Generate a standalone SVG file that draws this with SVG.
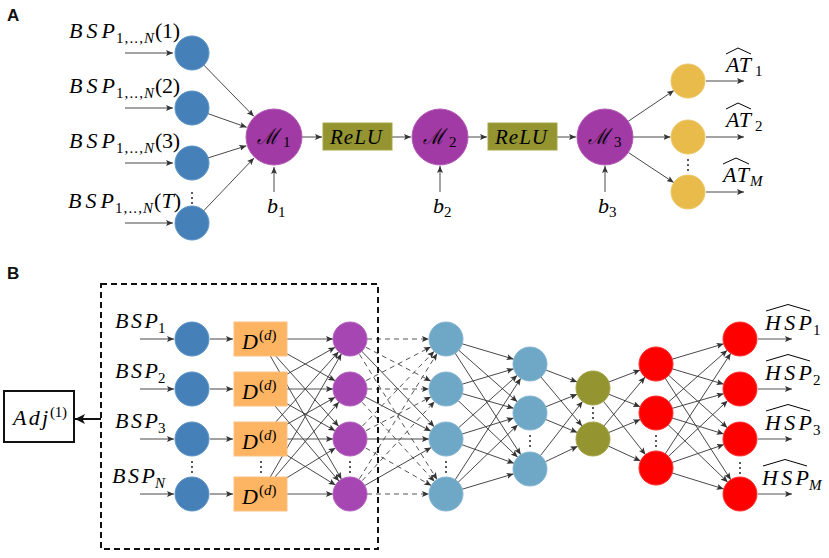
<svg xmlns="http://www.w3.org/2000/svg" width="829" height="558" viewBox="0 0 829 558">
<style>
.t{font-family:"Liberation Serif","DejaVu Serif",serif;fill:#000}
.i{font-style:italic}
.big{font-size:22px}
.sm{font-size:15px}
.pl{font-family:"Liberation Sans",Arial,sans-serif;font-weight:bold;font-size:17px;fill:#111}
.cal{font-family:"DejaVu Serif","Liberation Serif",serif;font-size:22px;fill:#000}
.c{stroke:#333;stroke-width:0.9;fill:none;marker-end:url(#ah)}
.h{stroke:#555;stroke-width:1.1;fill:none;marker-end:url(#ah)}
.d{stroke:#555;stroke-width:1;fill:none;stroke-dasharray:5 4;marker-end:url(#ah)}
.hat{stroke:#000;stroke-width:1;fill:none}
.blue{fill:#4581b8;stroke:#5c93c4;stroke-width:1}
.purple{fill:#a23aa6;stroke:#b15ab5;stroke-width:1}
.purpleB{fill:#a646b2;stroke:#b562c0;stroke-width:1}
.yellow{fill:#e8bb4b;stroke:#edc867;stroke-width:1}
.olive{fill:#949431;stroke:#a5a548;stroke-width:1}
.orange{fill:#fdb463;stroke:#fcc283;stroke-width:1}
.lblue{fill:#6fa8c7;stroke:#85b6d1;stroke-width:1}
.red{fill:#ff0000;stroke:#ff3030;stroke-width:1}
.dot{fill:#222}
</style>
<defs>
<marker id="ah" markerWidth="8" markerHeight="6" refX="7" refY="3" orient="auto" markerUnits="userSpaceOnUse"><path d="M0,0 L7,3 L0,6 L1.5,3 z" fill="#333"/></marker>
<marker id="ahb" markerWidth="11" markerHeight="10" refX="10" refY="5" orient="auto" markerUnits="userSpaceOnUse"><path d="M0,0 L10,5 L0,10 L2.5,5 z" fill="#111"/></marker>
</defs>

<text class="pl" x="7" y="21">A</text>
<text class="pl" x="7" y="279">B</text>

<g id="connectors">
<!-- Part A -->
<line class="c" x1="125" y1="53" x2="173" y2="53"/>
<line class="c" x1="125" y1="108" x2="173" y2="108"/>
<line class="c" x1="125" y1="163" x2="173" y2="163"/>
<line class="c" x1="125" y1="223" x2="173" y2="223"/>
<line class="c" x1="192" y1="53" x2="253.8" y2="116.3"/>
<line class="c" x1="192" y1="108" x2="246.7" y2="127.3"/>
<line class="c" x1="192" y1="163" x2="246.4" y2="145.8"/>
<line class="c" x1="192" y1="223" x2="254" y2="158"/>
<line class="c" x1="302" y1="137" x2="322" y2="137"/>
<line class="c" x1="392" y1="137" x2="411" y2="137"/>
<line class="c" x1="468" y1="137" x2="487" y2="137"/>
<line class="c" x1="557" y1="137" x2="576" y2="137"/>
<line class="c" x1="274" y1="192" x2="274" y2="167"/>
<line class="c" x1="440" y1="192" x2="440" y2="166"/>
<line class="c" x1="605" y1="192" x2="605" y2="166"/>
<line class="c" x1="628.2" y1="121.3" x2="673.9" y2="90.5"/>
<line class="c" x1="633" y1="137" x2="670.5" y2="137"/>
<line class="c" x1="628.3" y1="152.5" x2="673.8" y2="182.6"/>
<line class="c" x1="706" y1="81" x2="744" y2="81"/>
<line class="c" x1="706" y1="137" x2="744" y2="137"/>
<line class="c" x1="706" y1="192" x2="744" y2="192"/>
<!-- Part B inputs -->
<line class="c" x1="140" y1="339" x2="174" y2="339"/>
<line class="c" x1="140" y1="389" x2="174" y2="389"/>
<line class="c" x1="140" y1="439" x2="174" y2="439"/>
<line class="c" x1="140" y1="494" x2="174" y2="494"/>
<line class="h" x1="210" y1="339" x2="233" y2="339"/>
<line class="h" x1="210" y1="389" x2="233" y2="389"/>
<line class="h" x1="210" y1="439" x2="233" y2="439"/>
<line class="h" x1="210" y1="494" x2="233" y2="494"/>
<!-- orange -> purple -->
<line class="h" x1="287" y1="339" x2="333" y2="339"/>
<line class="c" x1="260.5" y1="339" x2="335.16" y2="380.71"/>
<line class="c" x1="260.5" y1="339" x2="338.66" y2="426.33"/>
<line class="c" x1="260.5" y1="339" x2="341.5" y2="479.28"/>
<line class="c" x1="260.5" y1="389" x2="335.16" y2="347.29"/>
<line class="h" x1="287" y1="389" x2="333" y2="389"/>
<line class="c" x1="260.5" y1="389" x2="335.16" y2="430.71"/>
<line class="c" x1="260.5" y1="389" x2="338.97" y2="481.07"/>
<line class="c" x1="260.5" y1="439" x2="338.66" y2="351.67"/>
<line class="c" x1="260.5" y1="439" x2="335.16" y2="397.29"/>
<line class="h" x1="287" y1="439" x2="333" y2="439"/>
<line class="c" x1="260.5" y1="439" x2="335.51" y2="485.1"/>
<line class="c" x1="260.5" y1="494" x2="341.5" y2="353.72"/>
<line class="c" x1="260.5" y1="494" x2="338.97" y2="401.93"/>
<line class="c" x1="260.5" y1="494" x2="335.51" y2="447.9"/>
<line class="h" x1="287" y1="494" x2="333" y2="494"/>
<!-- purple -> light blue -->
<line class="d" x1="367" y1="339" x2="429" y2="339"/>
<line class="d" x1="350" y1="339" x2="430.92" y2="381.15"/>
<line class="c" x1="350" y1="339" x2="434.23" y2="426.73"/>
<line class="d" x1="350" y1="339" x2="437.05" y2="479.55"/>
<line class="d" x1="350" y1="389" x2="430.92" y2="346.85"/>
<line class="d" x1="367" y1="389" x2="429" y2="389"/>
<line class="c" x1="350" y1="389" x2="430.92" y2="431.15"/>
<line class="d" x1="350" y1="389" x2="434.53" y2="481.46"/>
<line class="d" x1="350" y1="439" x2="434.23" y2="351.27"/>
<line class="d" x1="350" y1="439" x2="430.92" y2="396.85"/>
<line class="c" x1="367" y1="439" x2="429" y2="439"/>
<line class="d" x1="350" y1="439" x2="431.25" y2="485.55"/>
<line class="d" x1="350" y1="494" x2="437.05" y2="353.45"/>
<line class="d" x1="350" y1="494" x2="434.53" y2="401.54"/>
<line class="c" x1="350" y1="494" x2="431.25" y2="447.45"/>
<line class="d" x1="367" y1="494" x2="429" y2="494"/>
<!-- lb4 -> lb5 -->
<line class="c" x1="446" y1="339" x2="513.7" y2="359.15"/>
<line class="c" x1="446" y1="339" x2="517.24" y2="401.76"/>
<line class="c" x1="446" y1="339" x2="520.77" y2="454.72"/>
<line class="c" x1="446" y1="389" x2="513.7" y2="368.85"/>
<line class="c" x1="446" y1="389" x2="513.65" y2="408.34"/>
<line class="c" x1="446" y1="389" x2="517.69" y2="457.28"/>
<line class="c" x1="446" y1="439" x2="517.32" y2="375.32"/>
<line class="c" x1="446" y1="439" x2="513.74" y2="418.03"/>
<line class="c" x1="446" y1="439" x2="513.99" y2="463.28"/>
<line class="c" x1="446" y1="494" x2="520.77" y2="378.28"/>
<line class="c" x1="446" y1="494" x2="517.76" y2="424.8"/>
<line class="c" x1="446" y1="494" x2="513.7" y2="473.85"/>
<!-- lb5 -> olive -->
<line class="c" x1="530" y1="364" x2="577.11" y2="381.95"/>
<line class="c" x1="530" y1="364" x2="582.06" y2="425.98"/>
<line class="c" x1="530" y1="413" x2="577.2" y2="394.27"/>
<line class="c" x1="530" y1="413" x2="577.29" y2="432.52"/>
<line class="c" x1="530" y1="469" x2="582.56" y2="401.42"/>
<line class="c" x1="530" y1="469" x2="577.65" y2="446.31"/>
<!-- olive -> red7 -->
<line class="c" x1="593" y1="388" x2="640.11" y2="370.05"/>
<line class="c" x1="593" y1="388" x2="640.2" y2="406.73"/>
<line class="c" x1="593" y1="388" x2="645.48" y2="454.64"/>
<line class="c" x1="593" y1="439" x2="645.06" y2="377.02"/>
<line class="c" x1="593" y1="439" x2="640.29" y2="419.48"/>
<line class="c" x1="593" y1="439" x2="640.56" y2="460.9"/>
<!-- red7 -> red8 -->
<line class="c" x1="656" y1="364" x2="723.7" y2="343.85"/>
<line class="c" x1="656" y1="364" x2="723.7" y2="384.15"/>
<line class="c" x1="656" y1="364" x2="727.32" y2="427.68"/>
<line class="c" x1="656" y1="364" x2="730.77" y2="479.72"/>
<line class="c" x1="656" y1="413" x2="727.24" y2="350.24"/>
<line class="c" x1="656" y1="413" x2="723.65" y2="393.66"/>
<line class="c" x1="656" y1="413" x2="723.74" y2="433.97"/>
<line class="c" x1="656" y1="413" x2="727.76" y2="482.2"/>
<line class="c" x1="656" y1="468" x2="730.77" y2="353.28"/>
<line class="c" x1="656" y1="468" x2="727.62" y2="400.65"/>
<line class="c" x1="656" y1="468" x2="723.93" y2="444.55"/>
<line class="c" x1="656" y1="468" x2="723.74" y2="488.97"/>
<!-- outputs -->
<line class="h" x1="758" y1="339" x2="792" y2="339"/>
<line class="h" x1="758" y1="389" x2="792" y2="389"/>
<line class="h" x1="758" y1="439" x2="792" y2="439"/>
<line class="h" x1="758" y1="494" x2="792" y2="494"/>
<!-- Adj arrow -->
<line x1="101" y1="419" x2="75" y2="419" stroke="#111" stroke-width="2" marker-end="url(#ahb)"/>
</g>

<!-- Part A nodes -->
<g id="a-in1"><circle class="blue" cx="192" cy="53" r="17"/></g>
<g id="a-in2"><circle class="blue" cx="192" cy="108" r="17"/></g>
<g id="a-in3"><circle class="blue" cx="192" cy="163" r="17"/></g>
<g id="a-inT"><circle class="blue" cx="192" cy="223" r="17"/></g>
<g id="a-dots1"><circle class="dot" cx="192" cy="193" r="1"/><circle class="dot" cx="192" cy="198" r="1"/><circle class="dot" cx="192" cy="203" r="1"/></g>
<g id="a-m1"><circle class="purple" cx="274" cy="137" r="28"/><text class="cal i" x="257" y="144" textLength="21" lengthAdjust="spacingAndGlyphs">ℳ</text><text class="t sm" x="283" y="147">1</text></g>
<g id="a-relu1"><rect class="olive" x="323" y="123" width="69" height="27"/><text class="t i" x="330" y="143.5" font-size="21" textLength="52">ReLU</text></g>
<g id="a-m2"><circle class="purple" cx="440" cy="137" r="28"/><text class="cal i" x="423" y="144" textLength="21" lengthAdjust="spacingAndGlyphs">ℳ</text><text class="t sm" x="449" y="147">2</text></g>
<g id="a-relu2"><rect class="olive" x="488" y="123" width="69" height="27"/><text class="t i" x="495" y="143.5" font-size="21" textLength="52">ReLU</text></g>
<g id="a-m3"><circle class="purple" cx="605" cy="137" r="28"/><text class="cal i" x="588" y="144" textLength="21" lengthAdjust="spacingAndGlyphs">ℳ</text><text class="t sm" x="614" y="147">3</text></g>
<g id="a-out1"><circle class="yellow" cx="688" cy="81" r="17"/></g>
<g id="a-out2"><circle class="yellow" cx="688" cy="137" r="17"/></g>
<g id="a-outM"><circle class="yellow" cx="688" cy="192" r="17"/></g>
<g id="a-dots2"><circle class="dot" cx="688" cy="160" r="1"/><circle class="dot" cx="688" cy="165" r="1"/><circle class="dot" cx="688" cy="170" r="1"/></g>

<!-- Part A labels -->
<g id="a-lab1"><text class="t i big" x="69" y="38" textLength="46">BSP</text><text class="t sm" x="116" y="43" textLength="38">1,..,<tspan class="i">N</tspan></text><text class="t big" x="155" y="38" textLength="25">(1)</text></g>
<g id="a-lab2"><text class="t i big" x="69" y="93" textLength="46">BSP</text><text class="t sm" x="116" y="98" textLength="38">1,..,<tspan class="i">N</tspan></text><text class="t big" x="155" y="93" textLength="25">(2)</text></g>
<g id="a-lab3"><text class="t i big" x="69" y="148" textLength="46">BSP</text><text class="t sm" x="116" y="153" textLength="38">1,..,<tspan class="i">N</tspan></text><text class="t big" x="155" y="148" textLength="25">(3)</text></g>
<g id="a-labT"><text class="t i big" x="68" y="208" textLength="46">BSP</text><text class="t sm" x="115" y="213" textLength="38">1,..,<tspan class="i">N</tspan></text><text class="t big" x="154" y="208" textLength="27">(<tspan class="i">T</tspan>)</text></g>
<g id="a-b1"><text class="t i big" x="267" y="213">b</text><text class="t sm" x="278" y="217">1</text></g>
<g id="a-b2"><text class="t i big" x="433" y="213">b</text><text class="t sm" x="444" y="217">2</text></g>
<g id="a-b3"><text class="t i big" x="598" y="213">b</text><text class="t sm" x="609" y="217">3</text></g>
<g id="a-at1"><polyline class="hat" points="726,54 738,48 751,54"/><text class="t i big" x="726" y="72" textLength="25">AT</text><text class="t sm" x="755" y="76">1</text></g>
<g id="a-at2"><polyline class="hat" points="726,109 738,103 751,109"/><text class="t i big" x="726" y="127" textLength="25">AT</text><text class="t sm" x="755" y="131">2</text></g>
<g id="a-atM"><polyline class="hat" points="723,164 736,158 749,164"/><text class="t i big" x="723" y="182" textLength="26">AT</text><text class="t i sm" x="750" y="186">M</text></g>

<!-- Part B -->
<g id="b-frame"><rect x="101" y="284" width="277" height="265" fill="none" stroke="#111" stroke-width="2" stroke-dasharray="6 4"/></g>
<g id="b-adj"><rect x="4" y="391" width="70" height="51" fill="#fff" stroke="#111" stroke-width="2"/><text class="t i big" x="13" y="425" textLength="35">Adj</text><text class="t sm" x="50" y="417" textLength="17">(1)</text></g>

<g id="b-in1"><circle class="blue" cx="192" cy="339" r="17"/></g>
<g id="b-in2"><circle class="blue" cx="192" cy="389" r="17"/></g>
<g id="b-in3"><circle class="blue" cx="192" cy="439" r="17"/></g>
<g id="b-inN"><circle class="blue" cx="192" cy="494" r="17"/></g>
<g id="b-dots1"><circle class="dot" cx="192" cy="462" r="1"/><circle class="dot" cx="192" cy="467" r="1"/><circle class="dot" cx="192" cy="472" r="1"/></g>

<g id="b-d1"><rect class="orange" x="234" y="322" width="53" height="34"/><text class="t i big" x="242" y="349">D</text><text class="t sm" x="259" y="340">(<tspan class="i">d</tspan>)</text></g>
<g id="b-d2"><rect class="orange" x="234" y="372" width="53" height="34"/><text class="t i big" x="242" y="399">D</text><text class="t sm" x="259" y="390">(<tspan class="i">d</tspan>)</text></g>
<g id="b-d3"><rect class="orange" x="234" y="422" width="53" height="34"/><text class="t i big" x="242" y="449">D</text><text class="t sm" x="259" y="440">(<tspan class="i">d</tspan>)</text></g>
<g id="b-d4"><rect class="orange" x="234" y="477" width="53" height="34"/><text class="t i big" x="242" y="504">D</text><text class="t sm" x="259" y="495">(<tspan class="i">d</tspan>)</text></g>
<g id="b-dots2"><circle class="dot" cx="261" cy="462" r="1"/><circle class="dot" cx="261" cy="467" r="1"/><circle class="dot" cx="261" cy="472" r="1"/></g>

<g id="b-p1"><circle class="purpleB" cx="350" cy="339" r="17"/></g>
<g id="b-p2"><circle class="purpleB" cx="350" cy="389" r="17"/></g>
<g id="b-p3"><circle class="purpleB" cx="350" cy="439" r="17"/></g>
<g id="b-p4"><circle class="purpleB" cx="350" cy="494" r="17"/></g>
<g id="b-dots3"><circle class="dot" cx="350" cy="462" r="1"/><circle class="dot" cx="350" cy="467" r="1"/><circle class="dot" cx="350" cy="472" r="1"/></g>

<g id="b-l1"><circle class="lblue" cx="446" cy="339" r="17"/></g>
<g id="b-l2"><circle class="lblue" cx="446" cy="389" r="17"/></g>
<g id="b-l3"><circle class="lblue" cx="446" cy="439" r="17"/></g>
<g id="b-l4"><circle class="lblue" cx="446" cy="494" r="17"/></g>
<g id="b-dots4"><circle class="dot" cx="446" cy="462" r="1"/><circle class="dot" cx="446" cy="467" r="1"/><circle class="dot" cx="446" cy="472" r="1"/></g>

<g id="b-m1"><circle class="lblue" cx="530" cy="364" r="17"/></g>
<g id="b-m2"><circle class="lblue" cx="530" cy="413" r="17"/></g>
<g id="b-m3"><circle class="lblue" cx="530" cy="469" r="17"/></g>
<g id="b-dots5"><circle class="dot" cx="530" cy="436" r="1"/><circle class="dot" cx="530" cy="441" r="1"/><circle class="dot" cx="530" cy="446" r="1"/></g>

<g id="b-o1"><circle class="olive" cx="593" cy="388" r="17"/></g>
<g id="b-o2"><circle class="olive" cx="593" cy="439" r="17"/></g>
<g id="b-dots6"><circle class="dot" cx="593" cy="408" r="1"/><circle class="dot" cx="593" cy="413" r="1"/><circle class="dot" cx="593" cy="418" r="1"/></g>

<g id="b-r1"><circle class="red" cx="656" cy="364" r="17"/></g>
<g id="b-r2"><circle class="red" cx="656" cy="413" r="17"/></g>
<g id="b-r3"><circle class="red" cx="656" cy="468" r="17"/></g>
<g id="b-dots7"><circle class="dot" cx="656" cy="436" r="1"/><circle class="dot" cx="656" cy="441" r="1"/><circle class="dot" cx="656" cy="446" r="1"/></g>

<g id="b-s1"><circle class="red" cx="740" cy="339" r="17"/></g>
<g id="b-s2"><circle class="red" cx="740" cy="389" r="17"/></g>
<g id="b-s3"><circle class="red" cx="740" cy="439" r="17"/></g>
<g id="b-sM"><circle class="red" cx="740" cy="494" r="17"/></g>
<g id="b-dots8"><circle class="dot" cx="740" cy="463" r="1"/><circle class="dot" cx="740" cy="468" r="1"/><circle class="dot" cx="740" cy="473" r="1"/></g>

<!-- Part B labels -->
<g id="b-lab1"><text class="t i big" x="115" y="328" textLength="43">BSP</text><text class="t sm" x="158" y="333">1</text></g>
<g id="b-lab2"><text class="t i big" x="115" y="378" textLength="43">BSP</text><text class="t sm" x="158" y="383">2</text></g>
<g id="b-lab3"><text class="t i big" x="115" y="428" textLength="43">BSP</text><text class="t sm" x="158" y="433">3</text></g>
<g id="b-labN"><text class="t i big" x="112" y="483" textLength="43">BSP</text><text class="t i sm" x="155" y="488">N</text></g>

<g id="b-hsp1"><polyline class="hat" points="766,311 788,304.5 810,311"/><text class="t i big" x="765" y="330" textLength="47">HSP</text><text class="t sm" x="813" y="335">1</text></g>
<g id="b-hsp2"><polyline class="hat" points="766,361 788,354.5 810,361"/><text class="t i big" x="765" y="380" textLength="47">HSP</text><text class="t sm" x="813" y="385">2</text></g>
<g id="b-hsp3"><polyline class="hat" points="766,411 788,404.5 810,411"/><text class="t i big" x="765" y="430" textLength="47">HSP</text><text class="t sm" x="813" y="435">3</text></g>
<g id="b-hspM"><polyline class="hat" points="763,466 785,459.5 807,466"/><text class="t i big" x="762" y="485" textLength="47">HSP</text><text class="t i sm" x="809" y="490">M</text></g>
</svg>
